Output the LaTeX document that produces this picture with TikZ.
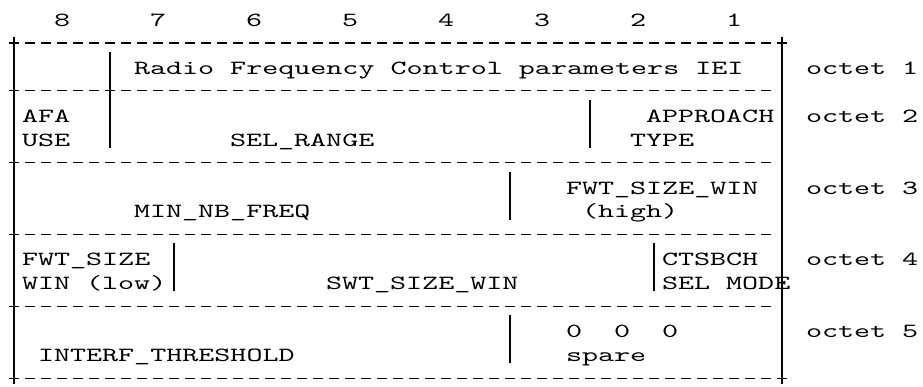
\documentclass[tikz,border=0pt]{standalone}
\usepackage{fontspec}
\newfontfamily\asciifont[FakeStretch=1.52,Numbers=Lining]{lmmono10-regular.otf}
\tikzset{
  lbl/.style={anchor=base west, inner sep=0pt, outer sep=0pt,
    font=\asciifont\fontsize{20.1pt}{22pt}\selectfont, text=black},
  dashrule/.style={line width=1.1pt, dash pattern=on 10pt off 6pt},
  barline/.style={line width=1.1pt},
}
\newcommand\dashrow[1]{\draw[dashrule] (0.6875,#1) -- (47.3125,#1);}
\newcommand\plusat[2]{\draw[barline] ({#1-0.34},#2) -- ({#1+0.34},#2);
  \draw[barline] (#1,{#2-0.25}) -- (#1,{#2+0.25});}
\newcommand\vbar[3]{\draw[barline] (#1,{#2-0.627}) -- (#1,{#3+0.376});}
\begin{document}
\begin{tikzpicture}[x=16pt,y=-23.93pt]
\useasboundingbox (-14pt,19.1pt) rectangle (909pt,-367.9pt);
% bit numbers
\foreach \c/\t in {3/8,9/7,15/6,21/5,27/4,33/3,39/2,45/1}
  \node[lbl] (bit\t) at (\c-0.5,0.31) {\t};
% horizontal rules
\foreach \r in {1,3,6,9,12,15} {\dashrow{\r}}
% outer vertical bars
\draw[barline] (0,0.75) -- (0,15.25);
\draw[barline] (48,0.75) -- (48,15.25);
% plus signs
\plusat{0}{1} \plusat{48}{1} \plusat{0}{3} \plusat{6}{3}
\plusat{0}{6} \plusat{0}{9} \plusat{0}{12} \plusat{0}{15} \plusat{48}{15}
% inner vertical bars
\vbar{6}{2}{5}
\vbar{36}{4}{5}
\vbar{31}{7}{8}
\vbar{10}{10}{11}
\vbar{40}{10}{11}
\vbar{31}{13}{14}
% labels
\node[lbl] (iei) at (7.5,2.31) {Radio Frequency Control parameters IEI};
\node[lbl] (oct1) at (49.5,2.31) {octet 1};
\node[lbl] (afa) at (0.5,4.31) {AFA};
\node[lbl] (appr) at (39.5,4.31) {APPROACH};
\node[lbl] (oct2) at (49.5,4.31) {octet 2};
\node[lbl] (use) at (0.5,5.31) {USE};
\node[lbl] (selr) at (13.5,5.31) {SEL\_RANGE};
\node[lbl] (type) at (38.5,5.31) {TYPE};
\node[lbl] (fwthigh) at (34.5,7.31) {FWT\_SIZE\_WIN};
\node[lbl] (oct3) at (49.5,7.31) {octet 3};
\node[lbl] (minnb) at (7.5,8.31) {MIN\_NB\_FREQ};
\node[lbl] (high) at (35.5,8.31) {(high)};
\node[lbl] (fwtlow) at (0.5,10.31) {FWT\_SIZE};
\node[lbl] (ctsbch) at (40.5,10.31) {CTSBCH};
\node[lbl] (oct4) at (49.5,10.31) {octet 4};
\node[lbl] (winlow) at (0.5,11.31) {WIN (low)};
\node[lbl] (swt) at (19.5,11.31) {SWT\_SIZE\_WIN};
\node[lbl] (selmode) at (40.5,11.31) {SEL MODE};
\node[lbl] (zeroa) at (34.5,13.31) {0};
\node[lbl] (zerob) at (37.5,13.31) {0};
\node[lbl] (zeroc) at (40.5,13.31) {0};
\node[lbl] (oct5) at (49.5,13.31) {octet 5};
\node[lbl] (interf) at (1.5,14.31) {INTERF\_THRESHOLD};
\node[lbl] (spare) at (34.5,14.31) {spare};
\end{tikzpicture}
\end{document}
